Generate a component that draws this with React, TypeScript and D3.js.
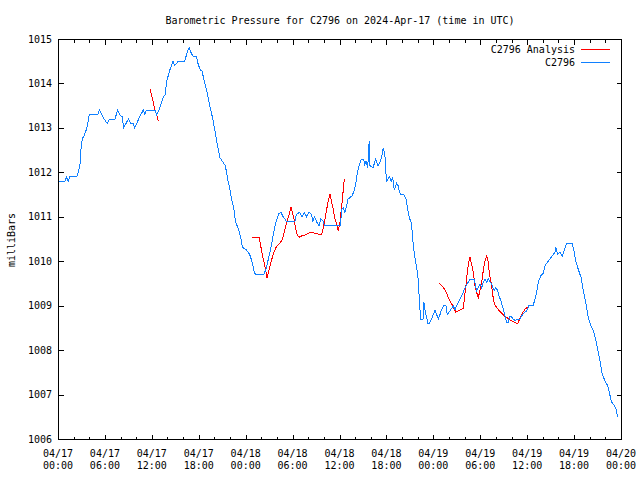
import * as d3 from "d3";

const width = 640;
const height = 480;
const marginTop = 39;
const marginRight = 19;
const marginBottom = 41;
const marginLeft = 58;

const font = "'DejaVu Sans Mono', monospace";
const stationColor = "#1080ff";
const analysisColor = "#ff0000";

// hours since 2024-04-17 00:00 UTC
const startTime = Date.UTC(2024, 3, 17, 0, 0);
const endTime = Date.UTC(2024, 3, 20, 0, 0);

const stationHours = [
  0, 0.9, 1.1, 1.3, 1.5, 2.4, 2.6, 2.8, 2.95, 3.1, 3.4, 3.7, 4.0, 5.1, 5.3, 5.6,
  5.9, 6.3, 6.6, 7.3, 7.6, 7.9, 8.2, 8.4, 8.7, 9.0, 9.3, 9.6, 9.8, 10.1, 10.3,
  10.6, 10.9, 11.1, 11.3, 12.4, 12.6, 12.9, 13.2, 13.5, 13.7, 13.9, 14.3, 14.7,
  14.9, 15.4, 16.2, 16.6, 16.8, 17.0, 17.3, 17.7, 17.9, 18.2, 18.4, 18.7, 19.0,
  19.4, 19.8, 20.1, 20.4, 20.7, 21.1, 21.4, 21.7, 22.0, 22.2, 22.5, 22.7, 23.1,
  23.4, 23.6, 24.0, 24.5, 24.8, 25.1, 25.3, 26.3, 26.6, 26.9, 27.2, 27.5, 27.8,
  28.2, 28.5, 28.8, 29.2, 30.3, 30.5, 30.9, 31.2, 31.5, 31.8, 32.1, 32.4, 32.6,
  32.8, 33.1, 33.4, 33.6, 33.9, 34.1, 36.1, 36.3, 36.5, 36.7, 36.9, 37.1, 37.6,
  37.9, 38.1, 38.3, 38.5, 38.8, 39.1, 39.2, 39.4, 39.6, 39.8, 39.9, 40.3, 40.6,
  40.9, 41.1, 41.4, 41.6, 41.8, 41.9, 42.0, 42.4, 42.6, 42.8, 42.9, 43.0, 43.3,
  43.5, 43.6, 43.8, 44.2, 44.5, 44.7, 44.9, 45.2, 45.4, 45.6, 45.9, 46.1, 46.2,
  46.38, 46.68, 46.8, 46.97, 47.15, 47.28, 47.48, 47.79, 48.21, 48.43, 48.63,
  48.85, 49.07, 49.36, 49.62, 49.78, 50.13, 50.55, 50.77, 50.98, 51.19, 51.62,
  52.05, 52.47, 52.69, 53.23, 53.45, 53.54, 53.96, 54.18, 54.39, 54.6, 54.82,
  55.03, 55.24, 55.46, 55.67, 55.8, 55.97, 56.23, 56.39, 56.65, 56.94, 57.16,
  57.38, 57.58, 57.8, 58.02, 58.22, 58.44, 58.79, 59.08, 59.3, 59.63, 59.94,
  60.23, 60.78, 61.0, 61.21, 61.42, 61.73, 62.06, 62.28, 62.62, 62.92, 63.21,
  63.55, 63.68, 63.9, 64.19, 64.49, 64.74, 65.05, 65.77, 66.02, 66.2, 66.53,
  66.88, 67.17, 67.52, 67.81, 68.16, 68.45, 68.76, 69.01, 69.31, 69.6, 69.95,
  70.29, 70.5, 70.8, 71.14, 71.36, 71.57,
];

const stationPressure = [
  1011.8, 1011.8, 1011.9, 1011.8, 1011.9, 1011.9, 1012.0, 1012.15, 1012.55,
  1012.75, 1012.85, 1013.0, 1013.3, 1013.3, 1013.4, 1013.3, 1013.2, 1013.1,
  1013.2, 1013.2, 1013.4, 1013.3, 1013.25, 1013.0, 1013.1, 1013.2, 1013.1,
  1013.1, 1013.0, 1013.1, 1013.2, 1013.3, 1013.4, 1013.3, 1013.4, 1013.4,
  1013.3, 1013.4, 1013.55, 1013.7, 1013.75, 1014.05, 1014.3, 1014.5, 1014.4,
  1014.5, 1014.5, 1014.75, 1014.8, 1014.7, 1014.6, 1014.6, 1014.45, 1014.3,
  1014.3, 1014.05, 1013.85, 1013.5, 1013.2, 1012.9, 1012.6, 1012.33, 1012.23,
  1012.15, 1011.85, 1011.6, 1011.4, 1011.17, 1010.88, 1010.72, 1010.5, 1010.31,
  1010.27, 1010.16, 1010.0, 1009.75, 1009.7, 1009.7, 1009.82, 1010.05, 1010.27,
  1010.57, 1010.84, 1011.06, 1011.1, 1011.0, 1010.9, 1010.9, 1011.06, 1011.1,
  1011.0, 1011.1, 1011.0, 1011.1, 1011.05, 1010.9, 1011.0, 1010.88, 1010.8,
  1010.95, 1010.9, 1010.8, 1010.8, 1011.17, 1011.2, 1011.1, 1011.25, 1011.4,
  1011.47, 1011.6, 1011.78, 1012.0, 1012.15, 1012.3, 1012.3, 1012.15, 1012.25,
  1012.1, 1012.7, 1012.15, 1012.1, 1012.3, 1012.15, 1012.2, 1012.35, 1012.55,
  1012.4, 1012.1, 1011.8, 1011.9, 1011.8, 1011.9, 1011.75, 1011.6, 1011.75,
  1011.7, 1011.6, 1011.5, 1011.5, 1011.4, 1011.2, 1011.0, 1010.85, 1010.43,
  1010.12, 1009.82, 1009.53, 1009.15, 1008.7, 1008.7, 1009.08, 1008.85,
  1008.75, 1008.6, 1008.6, 1008.7, 1008.9, 1008.8, 1008.7, 1008.8, 1008.92,
  1009.0, 1009.0, 1008.8, 1008.88, 1009.0, 1008.9, 1009.0, 1009.08, 1009.22,
  1009.4, 1009.53, 1009.6, 1009.6, 1009.4, 1009.34, 1009.49, 1009.4, 1009.53,
  1009.6, 1009.53, 1009.6, 1009.53, 1009.49, 1009.37, 1009.34, 1009.4, 1009.34,
  1009.22, 1009.11, 1008.92, 1008.77, 1008.63, 1008.63, 1008.77, 1008.74,
  1008.7, 1008.67, 1008.7, 1008.7, 1008.77, 1008.85, 1008.88, 1009.0, 1009.01,
  1009.15, 1009.3, 1009.53, 1009.67, 1009.73, 1009.9, 1009.98, 1010.05,
  1010.12, 1010.2, 1010.31, 1010.16, 1010.2, 1010.12, 1010.25, 1010.4, 1010.4,
  1010.2, 1010.01, 1009.82, 1009.64, 1009.34, 1009.04, 1008.74, 1008.55,
  1008.44, 1008.25, 1008.02, 1007.76, 1007.46, 1007.31, 1007.2, 1007.05,
  1006.83, 1006.75, 1006.67, 1006.49,
];

// null marks a gap between analysis runs
const analysisHours = [
  11.76, 12.15, 12.4, 12.62, 12.83, null,
  24.85, 25.7, 25.92, 26.12, 26.34, 26.56, 26.73, 26.98, 27.24, 27.53, 27.88,
  28.26, 28.61, 28.81, 29.03, 29.25, 29.54, 29.8, 30.18, 30.4, 30.65, 30.82,
  31.16, 31.59, 32.01, 32.44, 32.86, 33.29, 33.72, 33.93, 34.14, 34.36, 34.57,
  34.78, 35.2, 35.42, 35.64, 35.84, 36.06, 36.28, 36.41, 36.61, null,
  48.76, 49.36, 49.62, 49.91, 50.22, 50.47, 50.86, 51.5, 51.83, 51.96, 52.17,
  52.34, 52.52, 52.69, 53.11, 53.32, 53.54, 53.75, 53.96, 54.18, 54.39, 54.6,
  54.82, 55.03, 55.15, 55.37, 55.54, 55.67, 55.88, 56.1, 56.39, 56.74, 57.07,
  57.38, 57.8, 58.22, 58.53, 58.79, 58.99, 59.21, 59.5, 59.72, 59.94, 60.14,
];

const analysisPressure = [
  1013.87, 1013.6, 1013.4, 1013.3, 1013.15, null,
  1010.54, 1010.54, 1010.35, 1010.16, 1009.98, 1009.79, 1009.62, 1009.79,
  1009.98, 1010.16, 1010.31, 1010.39, 1010.46, 1010.57, 1010.72, 1010.88,
  1011.03, 1011.21, 1010.95, 1010.72, 1010.57, 1010.54, 1010.57, 1010.59,
  1010.63, 1010.65, 1010.63, 1010.61, 1010.61, 1010.76, 1010.95, 1011.17,
  1011.36, 1011.51, 1011.17, 1010.95, 1010.84, 1010.69, 1010.88, 1011.25,
  1011.47, 1011.85, null,
  1009.51, 1009.39, 1009.31, 1009.19, 1009.08, 1009.0, 1008.86, 1008.91,
  1008.94, 1009.15, 1009.45, 1009.75, 1009.98, 1010.09, 1009.75, 1009.45,
  1009.3, 1009.18, 1009.34, 1009.53, 1009.79, 1010.01, 1010.11, 1009.98,
  1009.75, 1009.53, 1009.34, 1009.15, 1009.01, 1008.96, 1008.89, 1008.83,
  1008.77, 1008.74, 1008.68, 1008.64, 1008.61, 1008.59, 1008.68, 1008.76,
  1008.86, 1008.92, 1008.95, 1008.96,
];

const pressureTicks = [1006, 1007, 1008, 1009, 1010, 1011, 1012, 1013, 1014, 1015];

type Pt = { t: Date | null; p: number | null };

const toPoints = (hours: (number | null)[], values: (number | null)[]): Pt[] =>
  hours.map((h, i) => ({
    t: h == null ? null : new Date(startTime + h * 3600e3),
    p: values[i],
  }));

const stationData = toPoints(stationHours, stationPressure);
const analysisData = toPoints(analysisHours, analysisPressure);

const App = () => {
  const x = d3
    .scaleUtc()
    .domain([new Date(startTime), new Date(endTime)])
    .range([marginLeft, width - marginRight]);

  const y = d3
    .scaleLinear()
    .domain([1006, 1015])
    .range([height - marginBottom, marginTop]);

  const majorTicks = x.ticks(d3.utcHour.every(6)!);
  const minorTicks = x
    .ticks(d3.utcHour.every(2)!)
    .filter((d) => d.getUTCHours() % 6 !== 0);

  const fmtDay = d3.utcFormat("%m/%d");
  const fmtTime = d3.utcFormat("%H:%M");

  const line = d3
    .line<Pt>()
    .defined((d) => d.t != null && d.p != null)
    .x((d) => x(d.t as Date))
    .y((d) => y(d.p as number));

  const left = marginLeft + 0.5;
  const right = width - marginRight + 0.5;
  const top = marginTop + 0.5;
  const bottom = height - marginBottom + 0.5;

  const majorLen = 5;
  const minorLen = 3;

  return (
    <svg
      width={width}
      height={height}
      viewBox={`0 0 ${width} ${height}`}
      style={{ position: "fixed", left: 0, top: 0, background: "#fff" }}
      fontFamily={font}
      fontSize={10}
    >
      <rect width={width} height={height} fill="#fff" />

      <text x={340} y={24} textAnchor="middle" fill="#000">
        Barometric Pressure for C2796 on 2024-Apr-17 (time in UTC)
      </text>

      <text
        transform={`translate(15, 240) rotate(-90)`}
        textAnchor="middle"
        fill="#000"
      >
        milliBars
      </text>

      {/* ticks */}
      <g stroke="#000" strokeWidth={1} shapeRendering="crispEdges">
        {pressureTicks.map((v) => {
          const yy = Math.round(y(v)) + 0.5;
          return (
            <g key={v}>
              <line x1={left} x2={left + majorLen} y1={yy} y2={yy} />
              <line x1={right} x2={right - majorLen} y1={yy} y2={yy} />
            </g>
          );
        })}
        {majorTicks.map((d) => {
          const xx = Math.round(x(d)) + 0.5;
          return (
            <g key={+d}>
              <line x1={xx} x2={xx} y1={bottom} y2={bottom - majorLen} />
              <line x1={xx} x2={xx} y1={top} y2={top + majorLen} />
            </g>
          );
        })}
        {minorTicks.map((d) => {
          const xx = Math.round(x(d)) + 0.5;
          return (
            <g key={+d}>
              <line x1={xx} x2={xx} y1={bottom} y2={bottom - minorLen} />
              <line x1={xx} x2={xx} y1={top} y2={top + minorLen} />
            </g>
          );
        })}
      </g>

      {pressureTicks.map((v) => (
        <text
          key={v}
          x={marginLeft - 6}
          y={y(v)}
          dy="0.35em"
          textAnchor="end"
          fill="#000"
        >
          {v}
        </text>
      ))}

      {majorTicks.map((d) => (
        <text key={+d} x={x(d)} textAnchor="middle" fill="#000">
          <tspan x={x(d)} y={height - marginBottom + 18}>
            {fmtDay(d)}
          </tspan>
          <tspan x={x(d)} y={height - marginBottom + 30}>
            {fmtTime(d)}
          </tspan>
        </text>
      ))}

      <path
        d={line(analysisData) as string}
        fill="none"
        stroke={analysisColor}
        strokeWidth={1}
        shapeRendering="crispEdges"
      />
      <path
        d={line(stationData) as string}
        fill="none"
        stroke={stationColor}
        strokeWidth={1}
        shapeRendering="crispEdges"
      />

      {/* legend */}
      <g>
        <text x={575} y={49} dy="0.35em" textAnchor="end" fill="#000">
          C2796 Analysis
        </text>
        <line
          x1={581}
          x2={610}
          y1={49.5}
          y2={49.5}
          stroke={analysisColor}
          shapeRendering="crispEdges"
        />
        <text x={575} y={62} dy="0.35em" textAnchor="end" fill="#000">
          C2796
        </text>
        <line
          x1={581}
          x2={610}
          y1={62.5}
          y2={62.5}
          stroke={stationColor}
          shapeRendering="crispEdges"
        />
      </g>

      <rect
        x={left}
        y={top}
        width={right - left}
        height={bottom - top}
        fill="none"
        stroke="#000"
        strokeWidth={1}
        shapeRendering="crispEdges"
      />
    </svg>
  );
};

export default App;
